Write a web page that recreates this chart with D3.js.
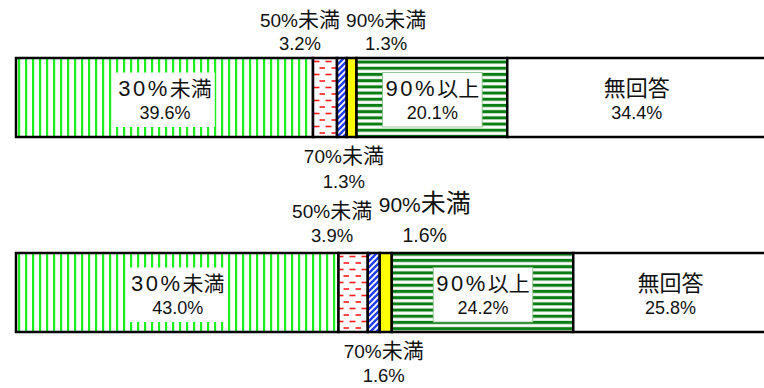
<!DOCTYPE html>
<html>
<head>
<meta charset="utf-8">
<script src="https://cdn.jsdelivr.net/npm/d3@7"></script>
<style>
  html, body { margin: 0; padding: 0; background: #fff; }
  svg { display: block; }
</style>
</head>
<body>
<svg id="chart" width="764" height="388"></svg>
<script>
// Response categories, as printed on the bars
const categories = ["30%未満", "50%未満", "70%未満", "90%未満", "90%以上", "無回答"];
// The two surveyed groups (one stacked bar each)
const groups = ["1", "2"];
// Shares in percent for each group
const valuesGroup1 = [39.6, 3.2, 1.3, 1.3, 20.1, 34.4];
const valuesGroup2 = [43.0, 3.9, 1.6, 1.6, 24.2, 25.8];
const valueLabels1 = ["39.6%", "3.2%", "1.3%", "1.3%", "20.1%", "34.4%"];
const valueLabels2 = ["43.0%", "3.9%", "1.6%", "1.6%", "24.2%", "25.8%"];

const allValues = [valuesGroup1, valuesGroup2];
const allLabels = [valueLabels1, valueLabels2];

const barH = 79;
const svg = d3.select("#chart");

const x = d3.scaleLinear().domain([0, 100]).range([16, 766]);
const y = d3.scalePoint().domain(groups).range([97.5, 292.5]);

// Table for d3.stack
const table = groups.map((g, gi) => {
  const row = { group: g };
  categories.forEach((c, ci) => { row[c] = allValues[gi][ci]; });
  return row;
});
const series = d3.stack().keys(categories)(table);

// ---- fill patterns ----
const defs = svg.append("defs");

// vertical light-green lines
const pV = defs.append("pattern").attr("id", "pVert")
  .attr("patternUnits", "userSpaceOnUse").attr("width", 7).attr("height", 10).attr("x", 16);
pV.append("rect").attr("width", 7).attr("height", 10).attr("fill", "#fff");
pV.append("rect").attr("x", 2).attr("width", 2.2).attr("height", 10).attr("fill", "#1cf01c");

// red dashes, staggered
const pD = defs.append("pattern").attr("id", "pDash")
  .attr("patternUnits", "userSpaceOnUse").attr("width", 12).attr("height", 13).attr("x", 313).attr("y", 58);
pD.append("rect").attr("width", 12).attr("height", 13).attr("fill", "#fff");
pD.append("line").attr("x1", 0.5).attr("x2", 6.5).attr("y1", 3.5).attr("y2", 3.5)
  .attr("stroke", "#ff1a1a").attr("stroke-width", 1.6);
pD.append("line").attr("x1", 6.5).attr("x2", 12.5).attr("y1", 10).attr("y2", 10)
  .attr("stroke", "#ff1a1a").attr("stroke-width", 1.6);

// blue diagonal stripes
const pB = defs.append("pattern").attr("id", "pDiag")
  .attr("patternUnits", "userSpaceOnUse").attr("width", 6).attr("height", 6);
pB.append("rect").attr("width", 6).attr("height", 6).attr("fill", "#fff");
pB.append("path").attr("d", "M-1,7 L7,-1 M-4,4 L4,-4 M2,10 L10,2")
  .attr("stroke", "#1f3cf5").attr("stroke-width", 2.4);

// dark-green horizontal stripes
const pH = defs.append("pattern").attr("id", "pHorz")
  .attr("patternUnits", "userSpaceOnUse").attr("width", 10).attr("height", 6.2).attr("y", 58);
pH.append("rect").attr("width", 10).attr("height", 6.2).attr("fill", "#fff");
pH.append("rect").attr("y", 2.5).attr("width", 10).attr("height", 3.1).attr("fill", "#0a7d12");

const fills = ["url(#pVert)", "url(#pDash)", "url(#pDiag)", "#ffff00", "url(#pHorz)", "#ffffff"];

// ---- bars ----
const layers = svg.append("g").selectAll("g").data(series).join("g")
  .attr("fill", (d, i) => fills[i]);
layers.selectAll("rect").data(d => d).join("rect")
  .attr("x", d => x(d[0]))
  .attr("width", d => x(d[1]) - x(d[0]))
  .attr("y", d => y(d.data.group) - barH / 2)
  .attr("height", barH)
  .attr("stroke", "#000")
  .attr("stroke-width", 2.5);

// ---- labels ----
const FONT = "'Liberation Sans', Arial, sans-serif";
const CJK = "'Noto Sans CJK JP', sans-serif";
const isAscii = ch => ch.charCodeAt(0) < 128;

// Writes a text line as runs: ASCII in one size, CJK in another
function richLine(g, str, cx, baseline, asciiSize, cjkSize, spacing) {
  const t = g.append("text").attr("x", cx).attr("y", baseline)
    .attr("text-anchor", "middle").attr("fill", "#111");
  let run = "", runAscii = null;
  const flush = () => {
    if (!run) return;
    const ts = t.append("tspan")
      .attr("font-family", runAscii ? FONT : CJK)
      .attr("font-size", runAscii ? asciiSize : cjkSize)
      .text(run);
    if (runAscii && spacing) ts.attr("letter-spacing", spacing);
  };
  for (const ch of str) {
    const a = isAscii(ch);
    if (runAscii !== null && a !== runAscii) { flush(); run = ""; }
    runAscii = a; run += ch;
  }
  flush();
  return t;
}

const labelLayer = svg.append("g");

// Inside labels (wide segments) with a white box behind
const insideIdx = [0, 4, 5];
const boxed = [true, false, false, false, true, false];
groups.forEach((g, gi) => {
  insideIdx.forEach(ci => {
    const seg = series[ci][gi];
    const cx = (x(seg[0]) + x(seg[1])) / 2 + 0.5;
    const cy = y(g);
    const grp = labelLayer.append("g");
    const bg = grp.append("rect");
    const l1 = richLine(grp, categories[ci], cx, cy - 2, 22, ci === 5 ? 22 : 21, 2.5);
    const l2 = richLine(grp, allLabels[gi][ci], cx, cy + 21.5, 18, 18);
    if (boxed[ci]) {
      const b1 = l1.node().getBBox(), b2 = l2.node().getBBox();
      const x0 = Math.min(b1.x, b2.x) - 3, x1 = Math.max(b1.x + b1.width, b2.x + b2.width) + 3;
      const y0 = b1.y + 1, y1 = b2.y + b2.height + 4;
      bg.attr("x", x0).attr("y", y0).attr("width", x1 - x0).attr("height", y1 - y0)
        .attr("fill", "#fff")
        .attr("stroke", ci === 4 ? "#7fbf7f" : "none").attr("stroke-width", 0.8);
    }
  });
});

// Outside labels for the narrow segments, shifted sideways to stay clear of each other
// side: "top" → baselines measured up from bar top; "bottom" → down from bar bottom
const outside = [
  [ { ci: 1, side: "top", dx: -25, b1: -31, b2: -8, s1: [19, 21] },
    { ci: 3, side: "top", dx: 34.5, b1: -31, b2: -8, s1: [19, 21] },
    { ci: 2, side: "bottom", dx: 2, b1: 26, b2: 51, s1: [19, 21] } ],
  [ { ci: 1, side: "top", dx: -21, b1: -35, b2: -11, s1: [19, 21] },
    { ci: 3, side: "top", dx: 39, b1: -41, b2: -11, s1: [21, 25], s2: 19.5 },
    { ci: 2, side: "bottom", dx: 10, b1: 26, b2: 50, s1: [19, 21] } ]
];
groups.forEach((g, gi) => {
  outside[gi].forEach(o => {
    const seg = series[o.ci][gi];
    const cx = (x(seg[0]) + x(seg[1])) / 2 + o.dx;
    const edge = o.side === "top" ? y(g) - barH / 2 : y(g) + barH / 2;
    const grp = labelLayer.append("g");
    richLine(grp, categories[o.ci], cx, edge + o.b1, o.s1[0], o.s1[1]);
    richLine(grp, allLabels[gi][o.ci], cx, edge + o.b2, o.s2 || 18.5, o.s2 || 18.5);
  });
});
</script>
</body>
</html>
